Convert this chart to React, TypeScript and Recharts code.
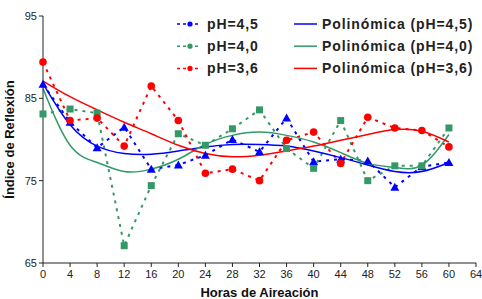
import { LineChart, Line, XAxis, YAxis, Label } from 'recharts';

const hours = [0, 4, 8, 12, 16, 20, 24, 28, 32, 36, 40, 44, 48, 52, 56, 60];
const ph45 = [86.7, 82.1, 79.0, 81.5, 76.4, 76.9, 78.1, 80.0, 78.5, 82.6, 77.3, 77.6, 77.4, 74.2, 76.7, 77.2];
const ph40 = [83.1, 83.7, 83.2, 67.1, 74.4, 80.7, 79.3, 81.3, 83.6, 78.9, 76.5, 82.3, 75.0, 76.8, 76.8, 81.4];
const ph36 = [89.4, 82.3, 82.6, 79.2, 86.5, 82.3, 75.9, 76.4, 75.0, 79.9, 80.9, 77.1, 82.7, 81.4, 81.1, 79.1];
// trend curves
const poly45 = [86.8, 81.8, 79.2, 78.3, 78.2, 78.6, 79.1, 79.4, 79.4, 79.2, 78.6, 77.8, 76.9, 76.1, 76.1, 77.2];
const poly40 = [86.2, 79.3, 77.2, 76.1, 76.4, 77.6, 79.4, 80.5, 80.9, 80.5, 79.7, 78.4, 77.1, 76.6, 76.9, 80.6];
const poly36 = [87.1, 85.2, 83.6, 82.1, 80.7, 79.3, 78.3, 77.9, 78.1, 78.6, 79.2, 79.9, 80.6, 81.2, 81.0, 79.7];

const xTicks = [0, 4, 8, 12, 16, 20, 24, 28, 32, 36, 40, 44, 48, 52, 56, 60, 64];
const yTicks = [65, 75, 85, 95];

const BLUE = '#0000ff';
const GREEN = '#339966';
const RED = '#ff0000';
const FONT = '"Liberation Sans", Arial, sans-serif';

const data = hours.map((h, i) => ({
  h,
  b: ph45[i],
  g: ph40[i],
  r: ph36[i],
  bt: poly45[i],
  gt: poly40[i],
  rt: poly36[i],
}));

const triangle = (props: any) => {
  const { cx, cy, index } = props;
  return <path key={'t' + index} d={`M${cx},${cy - 4.5} L${cx + 4.5},${cy + 3.5} L${cx - 4.5},${cy + 3.5} Z`} fill={BLUE} />;
};
const square = (props: any) => {
  const { cx, cy, index } = props;
  return <rect key={'s' + index} x={cx - 3.5} y={cy - 3.5} width={7} height={7} fill={GREEN} />;
};
const circle = (props: any) => {
  const { cx, cy, index } = props;
  return <circle key={'c' + index} cx={cx} cy={cy} r={3.8} fill={RED} />;
};

const legendRows = [
  { name: 'pH=4,5', poly: 'Polinómica (pH=4,5)', color: BLUE },
  { name: 'pH=4,0', poly: 'Polinómica (pH=4,0)', color: GREEN },
  { name: 'pH=3,6', poly: 'Polinómica (pH=3,6)', color: RED },
];

function LegendBox() {
  const text = { fontFamily: FONT, fontWeight: 700, fontSize: 14, fill: '#222', letterSpacing: 0.9 };
  return (
    <svg width={306} height={70} style={{ position: 'absolute', left: 175, top: 14 }}>
      {legendRows.map((row, i) => {
        const y = 10 + i * 22.2;
        return (
          <g key={row.name}>
            <line x1={2} x2={26} y1={y} y2={y} stroke={row.color} strokeWidth={1.5} strokeDasharray="3 3" />
            <circle cx={15} cy={y} r={2.6} fill={row.color} />
            <text x={32} y={y + 5} style={text}>{row.name}</text>
            <line x1={119} x2={142} y1={y} y2={y} stroke={row.color} strokeWidth={1.5} />
            <text x={147} y={y + 5} style={text}>{row.poly}</text>
          </g>
        );
      })}
    </svg>
  );
}

export default function App() {
  return (
    <div style={{ position: 'absolute', left: 0, top: 0, width: 482, height: 299, background: '#fff' }}>
      <LineChart width={482} height={299} data={data} margin={{ top: 16, right: 6, bottom: 0, left: 0 }}>
        <XAxis
          dataKey="h"
          type="number"
          domain={[0, 64]}
          ticks={xTicks}
          interval={0}
          height={36}
          stroke="#222"
          tickSize={4}
          tick={{ fill: '#222', fontSize: 11, fontFamily: FONT }}
          tickMargin={3}
        >
          <Label
            value="Horas de Aireación"
            position="insideBottom"
            offset={2}
            style={{ fontFamily: FONT, fontWeight: 700, fontSize: 13, fill: '#111' }}
          />
        </XAxis>
        <YAxis
          type="number"
          domain={[65, 95]}
          ticks={yTicks}
          interval={0}
          width={43}
          stroke="#222"
          tickSize={4}
          tick={{ fill: '#222', fontSize: 11, fontFamily: FONT }}
          tickMargin={2}
        >
          <Label
            value="Índice de Reflexión"
            angle={-90}
            position="insideLeft"
            offset={9}
            style={{ fontFamily: FONT, fontWeight: 700, fontSize: 13, fill: '#111', textAnchor: 'middle' }}
          />
        </YAxis>
        <Line dataKey="b" stroke={BLUE} strokeWidth={2} strokeDasharray="3 5" dot={triangle} activeDot={false} isAnimationActive={false} type="linear" />
        <Line dataKey="g" stroke={GREEN} strokeWidth={2} strokeDasharray="3 5" dot={square} activeDot={false} isAnimationActive={false} type="linear" />
        <Line dataKey="r" stroke={RED} strokeWidth={2} strokeDasharray="3 5" dot={circle} activeDot={false} isAnimationActive={false} type="linear" />
        <Line dataKey="bt" stroke={BLUE} strokeWidth={1.5} dot={false} activeDot={false} isAnimationActive={false} type="natural" />
        <Line dataKey="gt" stroke={GREEN} strokeWidth={1.5} dot={false} activeDot={false} isAnimationActive={false} type="natural" />
        <Line dataKey="rt" stroke={RED} strokeWidth={1.5} dot={false} activeDot={false} isAnimationActive={false} type="natural" />
      </LineChart>
      <LegendBox />
    </div>
  );
}
